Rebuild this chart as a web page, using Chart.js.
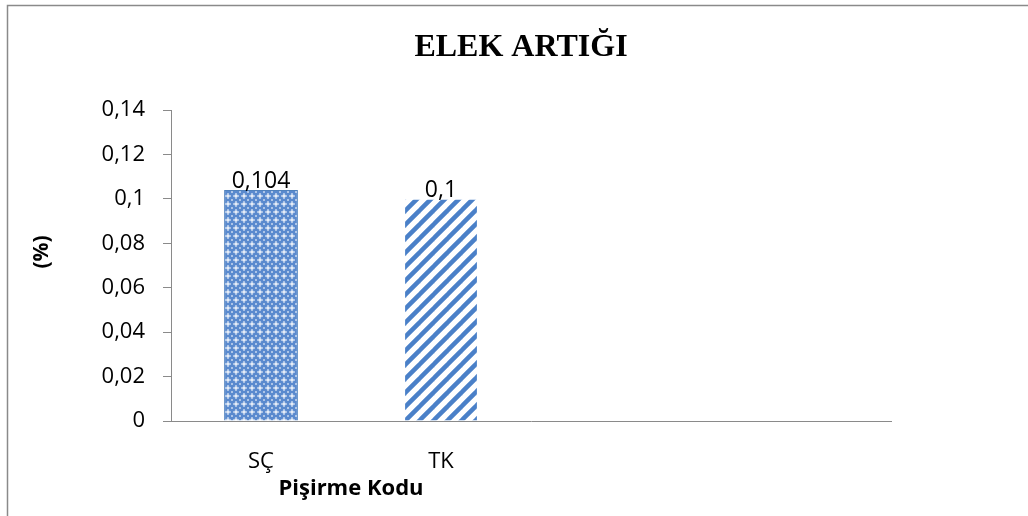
<!DOCTYPE html>
<html>
<head>
<meta charset="utf-8">
<script src="https://cdn.jsdelivr.net/npm/chart.js@4"></script>
<style>
  html, body { margin: 0; padding: 0; background: #fff; }
  #wrap { width: 1028px; height: 516px; }
</style>
</head>
<body>
<div id="wrap"><canvas id="c" width="1028" height="516"></canvas></div>
<script>
  // data
  const chartTitle = "ELEK ARTIĞI";
  const categories = ["SÇ", "TK", "", ""];
  const values = [0.104, 0.1, null, null];
  const xTitle = "Pişirme Kodu";
  const yTitle = "(%)";
  const yMin = 0, yMax = 0.14, yStep = 0.02;

  const BLUE = "#4f81bd";
  const fmt = (v) => String(Number(v.toFixed(3))).replace(".", ",");

  function makeDotPattern() {
    const s = 8;
    const t = document.createElement("canvas");
    t.width = s; t.height = s;
    const g = t.getContext("2d");
    g.fillStyle = "#5a8ace";
    g.fillRect(0, 0, s, s);
    // white plus in the middle, lighter diamond around the tile corners
    g.fillStyle = "rgba(255,255,255,0.95)";
    g.fillRect(1, 3.5, 6, 1);
    g.fillRect(3.5, 1, 1, 6);
    g.fillStyle = "rgba(255,255,255,0.45)";
    g.fillRect(2.5, 2.5, 3, 3);
    g.fillStyle = "rgba(255,255,255,0.5)";
    g.fillRect(0, 0, 1, 1);
    g.fillRect(s - 1, 0, 1, 1);
    g.fillRect(0, s - 1, 1, 1);
    g.fillRect(s - 1, s - 1, 1, 1);
    return g.createPattern(t, "repeat");
  }

  function makeStripePattern() {
    const s = 14;
    const t = document.createElement("canvas");
    t.width = s; t.height = s;
    const g = t.getContext("2d");
    g.fillStyle = "#fff";
    g.fillRect(0, 0, s, s);
    g.strokeStyle = "#4a80c8";
    g.lineWidth = 4.5;
    g.lineCap = "square";
    for (const off of [-s, 0, s]) {
      g.beginPath();
      g.moveTo(off, s);
      g.lineTo(off + s, 0);
      g.stroke();
    }
    return g.createPattern(t, "repeat");
  }

  const fills = [makeDotPattern(), makeStripePattern(), BLUE, BLUE];
  const borders = [BLUE, "rgba(0,0,0,0)", BLUE, BLUE];

  const decor = {
    id: "decor",
    beforeDraw(chart) {
      const ctx = chart.ctx;
      ctx.save();
      ctx.strokeStyle = "#8a8a8a";
      ctx.lineWidth = 1.5;
      ctx.beginPath();
      ctx.moveTo(7.5, 516);
      ctx.lineTo(7.5, 5.5);
      ctx.lineTo(1028, 5.5);
      ctx.stroke();
      ctx.restore();
    },
    afterDraw(chart) {
      const ctx = chart.ctx;
      const x = chart.scales.x;
      ctx.save();
      ctx.fillStyle = "#000";
      // title
      ctx.font = "bold 32px 'Liberation Serif'";
      ctx.textAlign = "center";
      ctx.textBaseline = "alphabetic";
      ctx.fillText(chartTitle, 521, 56);
      // value labels
      ctx.font = "23px 'Open Sans'";
      const meta = chart.getDatasetMeta(0);
      meta.data.forEach((bar, i) => {
        if (values[i] == null) return;
        ctx.fillText(fmt(values[i]), bar.x, bar.y - 2);
      });
      // x title, centred under the filled categories
      ctx.font = "bold 22px 'Open Sans'";
      const xc = (x.getPixelForTick(0) + x.getPixelForTick(1)) / 2;
      ctx.textBaseline = "middle";
      ctx.fillText(xTitle, xc, 489);
      // y title
      ctx.font = "bold 21px 'Open Sans'";
      ctx.translate(42, 252);
      ctx.rotate(-Math.PI / 2);
      ctx.fillText(yTitle, 0, 0);
      ctx.restore();
    }
  };

  new Chart(document.getElementById("c"), {
    type: "bar",
    data: {
      labels: categories,
      datasets: [{
        data: values,
        backgroundColor: fills,
        borderColor: borders,
        borderWidth: 1,
        barPercentage: 0.41,
        categoryPercentage: 1
      }]
    },
    options: {
      responsive: false,
      animation: false,
      layout: { padding: { left: 0, top: 110, right: 137, bottom: 0 } },
      plugins: {
        legend: { display: false },
        tooltip: { enabled: false }
      },
      scales: {
        x: {
          afterFit(s) { s.height = 95; },
          grid: { display: false },
          border: { display: true, color: "#8a8a8a", width: 1 },
          ticks: {
            color: "#000",
            padding: 20,
            maxRotation: 0,
            font: { family: "'Open Sans'", size: 22 }
          }
        },
        y: {
          min: yMin,
          max: yMax,
          afterFit(s) { s.width = 171; },
          grid: { drawOnChartArea: false, drawTicks: true, tickLength: 8, color: "#8a8a8a" },
          border: { display: true, color: "#8a8a8a", width: 1 },
          ticks: {
            stepSize: yStep,
            color: "#000",
            padding: 18,
            font: { family: "'Open Sans'", size: 22 },
            callback: (v) => String(Number(v.toFixed(2))).replace(".", ",")
          }
        }
      }
    },
    plugins: [decor]
  });
</script>
</body>
</html>
